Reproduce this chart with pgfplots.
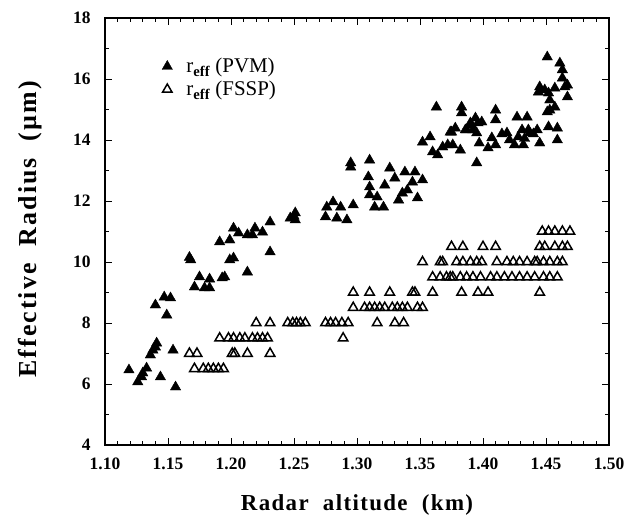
\documentclass[border=0pt]{standalone}
\usepackage{fontspec}
\setmainfont{Liberation Serif}
\usepackage{pgfplots}
\pgfplotsset{compat=1.18}
\begin{document}
\begin{tikzpicture}
\path[use as bounding box] (-105bp,-77bp) rectangle (530bp,445bp);
\begin{axis}[
  at={(0,0)}, anchor=south west,
  scale only axis, width=504bp, height=427bp,
  xmin=1.10, xmax=1.50, ymin=4, ymax=18,
  xtick={1.10,1.15,1.20,1.25,1.30,1.35,1.40,1.45,1.50},
  minor x tick num=4,
  ytick={4,6,8,10,12,14,16,18}, minor y tick num=1,
  tick align=inside,
  major tick length=7bp, minor tick length=4bp,
  axis line style={line width=1.1bp},
  every tick/.style={black, line width=0.9bp},
  every minor tick/.style={black, line width=0.8bp},
  /pgf/number format/assume math mode=true,
  xticklabel style={/pgf/number format/fixed, /pgf/number format/fixed zerofill, /pgf/number format/precision=2, yshift=-9bp},
  yticklabel style={xshift=-11bp},
  tick label style={font=\bfseries\fontsize{17.5}{17.5}\selectfont},
  xlabel={Radar\ \ altitude\ \ (km)},
  ylabel={Effective\ \ Radius\ \ (µm)},
  xlabel style={font=\bfseries\fontsize{23}{23}\selectfont\addfontfeature{LetterSpace=6},
    at={(axis description cs:0.5,-0.1405)}, anchor=center},
  ylabel style={font=\bfseries\fontsize{26}{26}\selectfont\addfontfeature{LetterSpace=8},
    at={(axis description cs:-0.149,0.505)}, anchor=center},
  legend style={at={(axis description cs:0.1,0.915)}, anchor=north west, draw=none, fill=none,
    font=\fontsize{21}{21}\selectfont, row sep=3bp, cells={anchor=west}},
  legend image code/.code={\path (0cm,0cm) (0.9cm,0cm); \draw[#1] plot coordinates {(0.3cm,0cm)};},
  clip=false,
]
\addplot[only marks, mark=triangle*, mark size=6bp, black, mark options={fill=black}] coordinates {
(1.119,6.46) (1.126,6.07) (1.129,6.23) (1.133,6.52) (1.130,6.36) (1.144,6.23) (1.156,5.90)
(1.136,6.95) (1.140,7.21) (1.141,7.34) (1.138,7.11) (1.154,7.11)
(1.140,8.59) (1.147,8.85) (1.152,8.82) (1.149,8.26)
(1.168,10.07) (1.167,10.15) (1.175,9.51) (1.171,9.18) (1.179,9.15) (1.183,9.44) (1.183,9.15)
(1.193,9.48) (1.195,9.51) (1.199,10.07) (1.202,10.13) (1.213,9.67)
(1.191,10.66) (1.199,10.72) (1.202,11.11) (1.206,10.95) (1.213,10.89) (1.219,11.11)
(1.225,10.98) (1.231,11.31) (1.231,10.33) (1.217,10.89)
(1.247,11.44) (1.251,11.61) (1.251,11.38) (1.250,11.50)
(1.276,11.80) (1.275,11.48) (1.281,11.97) (1.287,11.80) (1.284,11.44) (1.292,11.38) (1.297,11.87)
(1.295,13.25) (1.295,13.11) (1.310,13.34) (1.309,12.79) (1.310,12.46) (1.310,12.20)
(1.316,12.13) (1.314,11.80) (1.321,11.80) (1.322,12.52) (1.326,13.08) (1.330,12.75)
(1.333,12.03) (1.336,12.26) (1.338,12.95) (1.340,12.36) (1.346,12.95) (1.344,12.62)
(1.348,12.10) (1.352,12.69)
(1.352,13.93) (1.358,14.10) (1.360,13.61) (1.364,13.51) (1.363,15.08) (1.368,13.77)
(1.374,14.26) (1.376,13.84) (1.383,15.08) (1.383,14.89) (1.382,13.67) (1.387,14.33)
(1.391,14.49) (1.395,14.23) (1.395,13.25) (1.372,13.84) (1.375,14.26) (1.378,14.39)
(1.386,14.33) (1.390,14.56) (1.392,14.33) (1.394,14.72) (1.396,14.56) (1.399,14.59)
(1.397,13.90) (1.404,13.74) (1.407,14.07) (1.410,14.98) (1.410,14.66) (1.410,13.84)
(1.419,14.23) (1.421,14.00) (1.427,14.75) (1.425,13.84) (1.432,13.84) (1.435,14.75)
(1.436,14.33) (1.437,14.23) (1.431,14.33) (1.443,14.33) (1.445,13.90)
(1.428,14.10) (1.440,14.20) (1.433,14.05) (1.415,14.20)
(1.451,16.72) (1.445,15.74) (1.444,15.57) (1.449,15.64) (1.452,15.54) (1.453,15.31)
(1.457,15.70) (1.461,16.52) (1.463,16.30) (1.463,16.03) (1.465,15.74) (1.467,15.80)
(1.467,15.41) (1.453,14.98) (1.451,14.92) (1.457,15.08) (1.452,14.43) (1.459,14.39)
(1.459,14.00)
};
\addlegendentry{r\textsubscript{\bfseries eff} (PVM)}
\addplot[only marks, mark=triangle, mark size=5.5bp, black, mark options={line width=1.5bp}] coordinates {
(1.171,6.5) (1.178,6.5) (1.182,6.5) (1.186,6.5) (1.190,6.5) (1.194,6.5)
(1.167,7.0) (1.173,7.0) (1.201,7.0) (1.203,7.0) (1.213,7.0) (1.231,7.0)
(1.191,7.5) (1.198,7.5) (1.202,7.5) (1.207,7.5) (1.211,7.5) (1.217,7.5) (1.221,7.5) (1.225,7.5) (1.229,7.5) (1.289,7.5)
(1.220,8.0) (1.231,8.0) (1.245,8.0) (1.249,8.0) (1.252,8.0) (1.255,8.0) (1.259,8.0)
(1.275,8.0) (1.279,8.0) (1.283,8.0) (1.288,8.0) (1.293,8.0) (1.316,8.0) (1.330,8.0) (1.337,8.0)
(1.297,8.5) (1.306,8.5) (1.310,8.5) (1.314,8.5) (1.318,8.5) (1.322,8.5) (1.328,8.5)
(1.332,8.5) (1.336,8.5) (1.340,8.5) (1.348,8.5) (1.352,8.5)
(1.297,9.0) (1.310,9.0) (1.326,9.0) (1.344,9.0) (1.346,9.0) (1.360,9.0) (1.383,9.0)
(1.396,9.0) (1.404,9.0) (1.445,9.0)
(1.360,9.5) (1.366,9.5) (1.371,9.5) (1.374,9.5) (1.376,9.5) (1.382,9.5) (1.387,9.5)
(1.392,9.5) (1.398,9.5) (1.406,9.5) (1.411,9.5) (1.417,9.5) (1.423,9.5) (1.429,9.5)
(1.435,9.5) (1.441,9.5) (1.448,9.5) (1.453,9.5) (1.459,9.5)
(1.352,10.0) (1.366,10.0) (1.368,10.0) (1.379,10.0) (1.384,10.0) (1.390,10.0) (1.395,10.0)
(1.399,10.0) (1.411,10.0) (1.419,10.0) (1.424,10.0) (1.429,10.0) (1.435,10.0) (1.441,10.0)
(1.443,10.0) (1.448,10.0) (1.453,10.0) (1.459,10.0) (1.463,10.0)
(1.375,10.5) (1.384,10.5) (1.400,10.5) (1.410,10.5) (1.445,10.5) (1.449,10.5) (1.457,10.5)
(1.463,10.5) (1.467,10.5)
(1.447,11.0) (1.452,11.0) (1.457,11.0) (1.463,11.0) (1.469,11.0)
};
\addlegendentry{r\textsubscript{\bfseries eff} (FSSP)}
\end{axis}
\end{tikzpicture}
\end{document}
